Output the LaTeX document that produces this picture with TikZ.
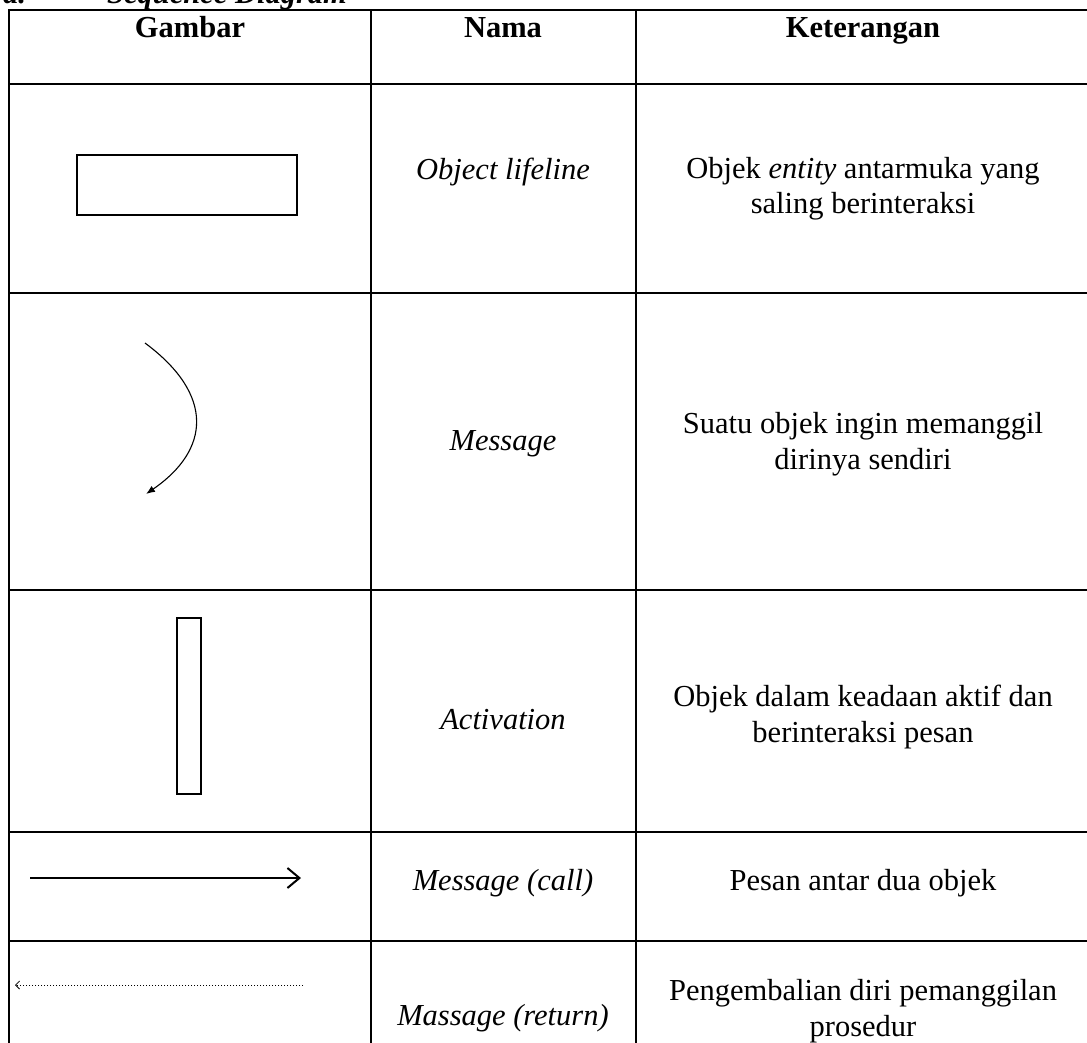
\documentclass[tikz,border=0pt]{standalone}
\usepackage{fontspec}
\setmainfont{Liberation Serif}
\usetikzlibrary{arrows.meta}
\begin{document}
\begin{tikzpicture}[x=1pt,y=-1pt,
  grid/.style={line width=2.6pt,line cap=rect},
  txt/.style={inner sep=0pt,anchor=base,font=\fontsize{30.5}{35.5}\selectfont},
  hdr/.style={txt,font=\fontsize{30.5}{35.5}\selectfont\bfseries},
  ket/.style={inner sep=0pt,align=center,font=\fontsize{30.5}{35.5}\selectfont},
  shapebox/.style={draw,line width=1.4pt}]
\useasboundingbox (0,0) rectangle (1087,1043);
% title (cut off at top)
\node[txt,anchor=base west,font=\fontsize{30.5}{35.5}\selectfont\bfseries\itshape] (ta) at (3,4) {a.};
\node[txt,anchor=base west,font=\fontsize{30.5}{35.5}\selectfont\bfseries\itshape] (tb) at (107,4) {Sequence Diagram};
% grid
\draw[grid] (9,10) -- (1095,10);
\foreach \yy in {84,293,590,832,941}{\draw[grid] (9,\yy) -- (1095,\yy);}
\draw[grid] (9,10) -- (9,1050);
\draw[grid] (371,10) -- (371,1050);
\draw[grid] (636,10) -- (636,1050);
\draw[grid] (1090,10) -- (1090,1050);
% header
\node[hdr] (h1) at (190,38) {Gambar};
\node[hdr] (h2) at (503,38) {Nama};
\node[hdr] (h3) at (863,38) {Keterangan};
% row 1
\node[shapebox,minimum width=220pt,minimum height=60pt,inner sep=0pt] (obj) at (187,185) {};
\node[txt] (n1) at (503,180) {\itshape Object lifeline};
\node[ket,anchor=base] (k1) at (863,214) {Objek \textit{entity} antarmuka yang\\saling berinteraksi};
% row 2
\coordinate (ms) at (145,343);
\coordinate (me) at (146,494);
\draw[line width=1.1pt,-{Latex[length=9pt,width=7pt]}] (ms) .. controls (215,395) and (210,450) .. (me);
\node[txt] (n2) at (503,450) {\itshape Message};
\node[ket,anchor=base] (k2) at (863,469) {Suatu objek ingin memanggil\\dirinya sendiri};
% row 3
\node[shapebox,minimum width=24pt,minimum height=176pt,inner sep=0pt] (act) at (189,706) {};
\node[txt] (n3) at (503,729) {\itshape Activation};
\node[ket,anchor=base] (k3) at (863,742) {Objek dalam keadaan aktif dan\\berinteraksi pesan};
% row 4
\coordinate (cs) at (30,878);
\coordinate (ce) at (301,878);
\draw[line width=2pt,-{Straight Barb[length=12pt,width=20pt,line width=2pt]}] (cs) -- (ce);
\node[txt] (n4) at (503,890) {\itshape Message (call)};
\node[txt] (k4) at (863,890) {Pesan antar dua objek};
% row 5
\coordinate (rs) at (303,985);
\coordinate (re) at (15,985);
\draw[line width=1pt,dotted,-{Straight Barb[length=4pt,width=8pt,line width=0.8pt]}] (rs) -- (re);
\node[txt] (n5) at (503,1025) {\itshape Massage (return)};
\node[ket,anchor=base] (k5) at (863,1036) {Pengembalian diri pemanggilan\\prosedur};
\end{tikzpicture}
\end{document}
